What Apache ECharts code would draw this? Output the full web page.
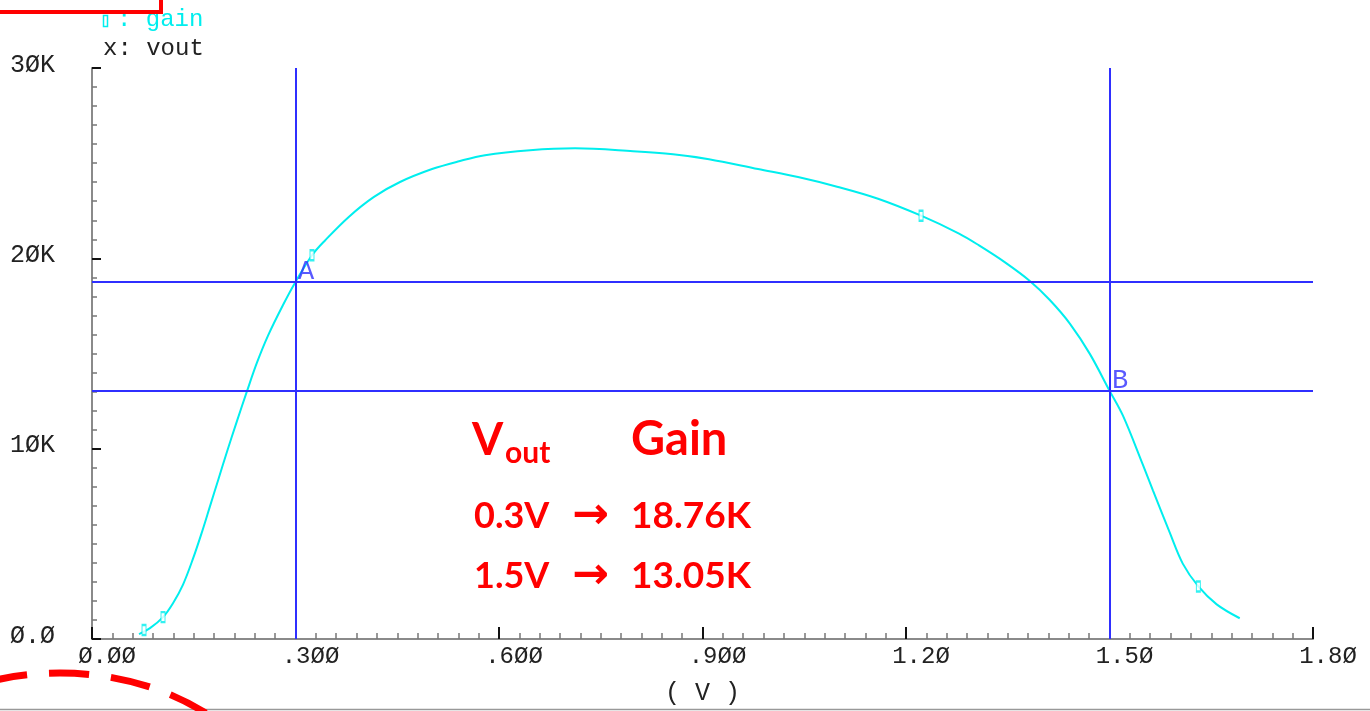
<!DOCTYPE html>
<html>
<head>
<meta charset="utf-8">
<script src="https://cdn.jsdelivr.net/npm/echarts@6/dist/echarts.min.js"></script>
<style>html,body{margin:0;padding:0;background:#fff;}#c{width:1370px;height:711px;}</style>
</head>
<body>
<div id="c"></div>
<script>
// ---- data ----
const vout = [0.0693,0.0855,0.1047,0.1194,0.1342,0.1489,0.1622,0.1740,0.1858,0.1990,0.2138,0.2285,0.2433,0.2595,0.2816,0.30,0.3243,0.3435,0.3789,0.4157,0.4541,0.5013,0.541,0.5794,0.6457,0.7121,0.7976,0.8566,0.9096,0.9819,1.0408,1.0998,1.1588,1.2222,1.2782,1.3077,1.346,1.383,1.412,1.4418,1.471,1.50,1.520,1.549,1.564,1.589,1.608,1.631,1.658,1.692];
const gain = [0.26,0.57,1.15,1.88,2.86,4.22,5.63,6.98,8.33,9.84,11.46,13.02,14.53,15.94,17.55,18.76,20.16,20.94,22.19,23.23,24.01,24.69,25.10,25.42,25.68,25.78,25.63,25.47,25.21,24.69,24.27,23.75,23.13,22.24,21.30,20.68,19.79,18.80,17.81,16.56,14.98,13.05,11.72,9.17,7.81,5.57,3.96,2.76,1.82,1.09];
const markerVout = [0.0767,0.1047,0.3243,1.2222,1.631];
const markerGain = [0.47,1.15,20.16,22.24,2.76];
const cursorNames = ['A','B'];
const cursorVout = [0.3,1.5];
const cursorGain = [18.76,13.05];
const xTickLabels = ['Ø.ØØ','.3ØØ','.6ØØ','.9ØØ','1.2Ø','1.5Ø','1.8Ø'];
const yTickLabels = ['Ø.Ø','1ØK','2ØK','3ØK'];
const annRows = [['0.3V','18.76K'],['1.5V','13.05K']];

const MONO = '"Liberation Mono","DejaVu Sans Mono",monospace';
const BOLD = 'Lato,"Open Sans",sans-serif';
const BLUE = '#2f2fff';
const CYAN = '#00eeee';
const RED = '#ff0000';

const chart = echarts.init(document.getElementById('c'), null, {renderer:'canvas'});

const lineData = vout.map((v,i)=>[v,gain[i]]);
const markerData = markerVout.map((v,i)=>[v,markerGain[i]]);
const cursorData = cursorVout.map((v,i)=>({value:[v,cursorGain[i]], name:cursorNames[i]}));

const graphics = [
  {type:'rect', shape:{x:-10,y:-20,width:171,height:32}, style:{fill:'none',stroke:RED,lineWidth:4}, z:10},
  {type:'ellipse', shape:{cx:60,cy:850,rx:230,ry:177}, style:{fill:'none',stroke:RED,lineWidth:7,lineDash:[40,22]}, z:10},
  {type:'line', shape:{x1:0,y1:709.5,x2:1370,y2:709.5}, style:{stroke:'#999',lineWidth:1.5}},
  {type:'rect', shape:{x:103.5,y:15.5,width:4,height:11}, style:{fill:'none',stroke:CYAN,lineWidth:1.5}},
  {type:'text', left:117, top:8, style:{text:': gain', font:'24px '+MONO, fill:CYAN}},
  {type:'text', left:103, top:37, style:{text:'x: vout', font:'24px '+MONO, fill:'#222'}},
  {type:'text', x:472, y:440, style:{text:'V', font:'bold 45px '+BOLD, fill:RED, verticalAlign:'middle'}},
  {type:'text', x:505, y:453, style:{text:'out', font:'bold 30px '+BOLD, fill:RED, verticalAlign:'middle'}},
  {type:'text', x:631, y:440, style:{text:'Gain', font:'bold 47px '+BOLD, fill:RED, verticalAlign:'middle'}}
];
annRows.forEach((r,i)=>{
  const y = 516 + i*60;
  graphics.push({type:'text', x:474, y:y, style:{text:r[0], font:'bold 36px '+BOLD, fill:RED, verticalAlign:'middle'}});
  graphics.push({type:'text', x:572, y:y+1, style:{text:'→', font:'bold 44px "DejaVu Sans",sans-serif', fill:RED, verticalAlign:'middle'}});
  graphics.push({type:'text', x:631, y:y, style:{text:r[1], font:'bold 37px '+BOLD, fill:RED, verticalAlign:'middle'}});
});

chart.setOption({
  animation:false,
  backgroundColor:'#fff',
  grid:{left:92,right:57,top:68,bottom:67,containLabel:false},
  xAxis:{
    type:'value', min:0, max:1.8, interval:0.3,
    name:'( V )', nameLocation:'middle', nameGap:42,
    nameTextStyle:{fontFamily:MONO, fontSize:25, color:'#222'},
    axisLine:{show:true, onZero:false, lineStyle:{color:'#8a8a8a', width:2}},
    axisTick:{show:true, inside:true, length:12, lineStyle:{color:'#111', width:2}},
    minorTick:{show:true, splitNumber:10, length:6, lineStyle:{color:'#777', width:1.5}},
    splitLine:{show:false}, minorSplitLine:{show:false},
    axisLabel:{fontFamily:MONO, fontSize:24, color:'#222', margin:6, padding:[0,0,0,30],
      formatter:(v)=>xTickLabels[Math.round(v/0.3)]}
  },
  yAxis:{
    type:'value', min:0, max:30, interval:10,
    axisLine:{show:true, onZero:false, lineStyle:{color:'#8a8a8a', width:2}},
    axisTick:{show:true, inside:true, length:9, lineStyle:{color:'#111', width:2}},
    minorTick:{show:true, splitNumber:10, length:5, lineStyle:{color:'#777', width:1.5}},
    splitLine:{show:false}, minorSplitLine:{show:false},
    axisLabel:{fontFamily:MONO, fontSize:25, color:'#222', align:'left', margin:82,
      verticalAlign:'bottom', lineHeight:6,
      formatter:(v)=>yTickLabels[Math.round(v/10)]}
  },
  graphic:graphics,
  series:[
    {
      type:'line', data:lineData, smooth:0.35, showSymbol:false, silent:true,
      lineStyle:{color:CYAN, width:2}, itemStyle:{color:CYAN}, z:3,
      markLine:{
        silent:true, symbol:'none', label:{show:false}, animation:false,
        lineStyle:{color:BLUE, width:2, type:'solid'},
        data:[...cursorVout.map(v=>({xAxis:v})), ...cursorGain.map(g=>({yAxis:g}))]
      }
    },
    {
      type:'scatter', data:markerData, symbol:'rect', symbolSize:[4,10], silent:true,
      itemStyle:{color:'#fff', borderColor:CYAN, borderWidth:1.5}, z:4
    },
    {
      type:'scatter', data:cursorData, symbolSize:1, silent:true,
      itemStyle:{color:'rgba(0,0,0,0)'},
      label:{show:true, formatter:(p)=>p.name, position:[3,4], align:'left', verticalAlign:'bottom',
        fontFamily:MONO, fontSize:27, color:BLUE}, z:5
    }
  ]
});
</script>
</body>
</html>
